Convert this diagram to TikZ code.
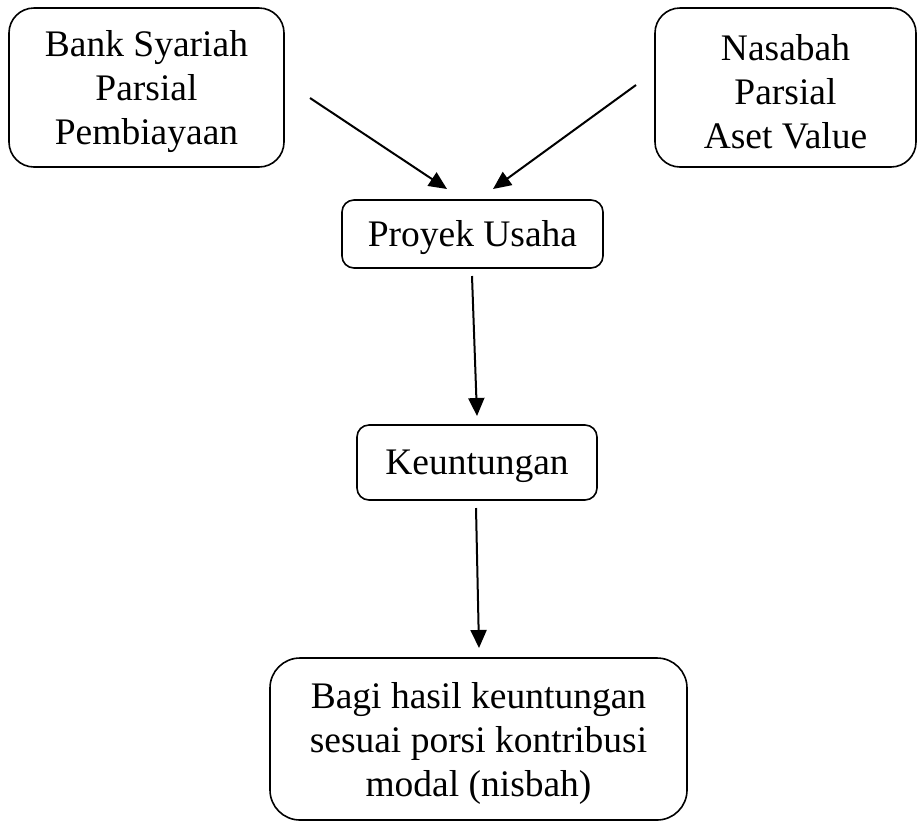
\documentclass[tikz,border=0pt]{standalone}
\usepackage{fontspec}
\setmainfont{Liberation Serif}
\usetikzlibrary{arrows.meta}
\newcommand{\lowtext}[2]{\raisebox{-4pt}[\height][\depth]{\parbox{#1}{\centering #2}}}
\begin{document}
\begin{tikzpicture}[x=1pt,y=-1pt,
  box/.style={draw,line width=1.6pt,align=center,inner sep=0pt,
    font=\fontsize{37.5}{44}\selectfont},
  conn/.style={line width=2pt,-{Triangle[length=18pt,width=16pt]}}]
\useasboundingbox (0,0) rectangle (917,823);
\node[box,rounded corners=25pt,minimum width=275pt,minimum height=159pt] (bank) at (146.5,87.5) {\lowtext{270pt}{Bank Syariah\\Parsial\\Pembiayaan}};
\node[box,rounded corners=25pt,minimum width=261pt,minimum height=159pt] (nasabah) at (785.5,87.5) {\lowtext{255pt}{Nasabah\\Parsial\\Aset Value}};
\node[box,rounded corners=12pt,minimum width=261pt,minimum height=68pt] (proyek) at (472.5,234) {\lowtext{255pt}{Proyek Usaha}};
\node[box,rounded corners=12pt,minimum width=240pt,minimum height=75pt] (untung) at (477,462.5) {\lowtext{235pt}{Keuntungan}};
\node[box,rounded corners=30pt,minimum width=417pt,minimum height=162pt] (bagi) at (478.5,739) {\lowtext{410pt}{Bagi hasil keuntungan\\sesuai porsi kontribusi\\modal (nisbah)}};
\coordinate (a1s) at (310,98);
\coordinate (a1e) at (447,189);
\coordinate (a2s) at (636,85);
\coordinate (a2e) at (493,189);
\coordinate (a3s) at (472,276);
\coordinate (a3e) at (477,416);
\coordinate (a4s) at (476,508);
\coordinate (a4e) at (479,648);
\draw[conn] (a1s) -- (a1e);
\draw[conn] (a2s) -- (a2e);
\draw[conn] (a3s) -- (a3e);
\draw[conn] (a4s) -- (a4e);
\end{tikzpicture}
\end{document}
